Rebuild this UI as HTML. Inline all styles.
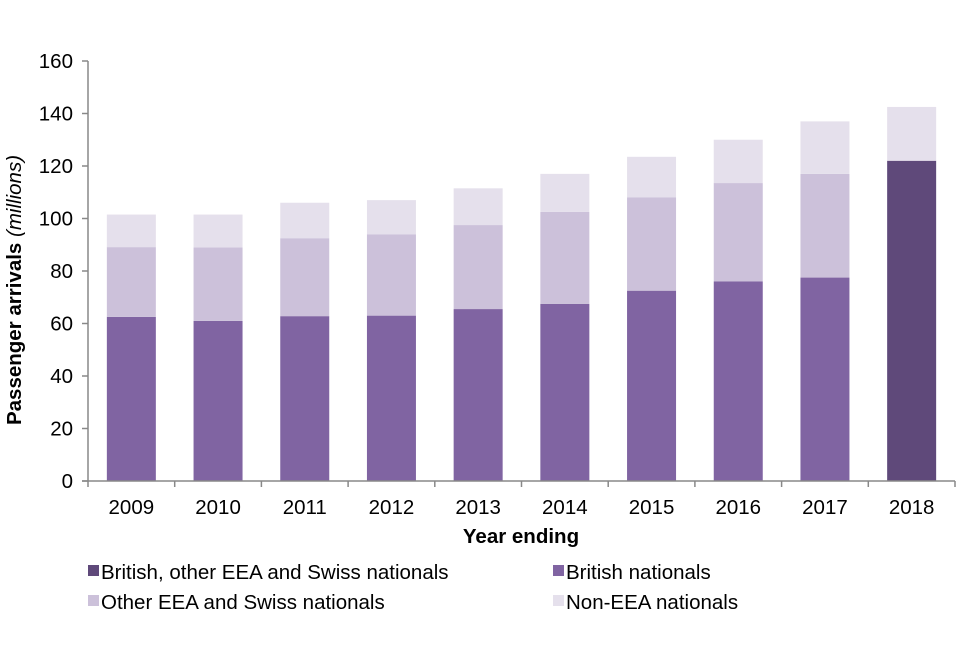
<!DOCTYPE html>
<html><head><meta charset="utf-8"><style>
body{margin:0;background:#fff;font-family:"Liberation Sans",Arial,sans-serif}
svg text{font-family:"Liberation Sans",Arial,sans-serif}
</style></head><body>
<svg id="chart" width="960" height="640" xmlns="http://www.w3.org/2000/svg"></svg>
<script>
const categories=["2009","2010","2011","2012","2013","2014","2015","2016","2017","2018"];
const combined=[0,0,0,0,0,0,0,0,0,122];
const british=[62.5,61,62.8,63,65.5,67.5,72.5,76,77.5,0];
const otherEEA=[26.6,28,29.7,31,32,35,35.5,37.5,39.5,0];
const nonEEA=[12.4,12.5,13.5,13,14,14.5,15.5,16.5,20,20.5];
const yTicks=[0,20,40,60,80,100,120,140,160];
const ns="http://www.w3.org/2000/svg";
const svg=document.getElementById("chart");
const X0=88,X1=955,Y0=481,Y1=61,YMAX=160;
const bw=(X1-X0)/categories.length;
const y=v=>Y0-(v/YMAX)*(Y0-Y1);
const xc=i=>X0+bw*(i+0.5);
function el(t,a){const e=document.createElementNS(ns,t);for(const k in a)e.setAttribute(k,a[k]);svg.appendChild(e);return e;}
const series=[[combined,"#5f497a","bar-british-eea-swiss"],[british,"#8064a2","bar-british"],[otherEEA,"#ccc1da","bar-other-eea-swiss"],[nonEEA,"#e5e0ec","bar-non-eea"]];
categories.forEach((c,i)=>{
  let base=0;
  series.forEach(([arr,col,nm])=>{
    const v=arr[i];if(!v)return;
    const r=el("rect",{x:xc(i)-24.5,y:y(base+v),width:49,height:y(base)-y(base+v),fill:col});
    
    
    base+=v;
  });
  const t=el("text",{x:xc(i),y:514,"text-anchor":"middle","font-size":"20.5",fill:"#000"});t.textContent=c;
  
  
  el("line",{x1:X0+bw*(i+1),x2:X0+bw*(i+1),y1:Y0,y2:Y0+6,stroke:"#888","stroke-width":1.5});
});
yTicks.forEach(v=>{
  el("line",{x1:X0-6,x2:X0,y1:y(v),y2:y(v),stroke:"#888","stroke-width":1.5});
  const t=el("text",{x:X0-15,y:y(v)+7,"text-anchor":"end","font-size":"20.5",fill:"#000"});t.textContent=v;
  
  
});
el("line",{x1:X0,x2:X0,y1:Y1,y2:Y0+6,stroke:"#888","stroke-width":1.5});
el("line",{x1:X0-6,x2:X1,y1:Y0,y2:Y0,stroke:"#888","stroke-width":1.5});
const xt=el("text",{x:521,y:543,"text-anchor":"middle","font-size":"20.5","font-weight":"bold"});xt.textContent="Year ending";


const yt=el("text",{x:0,y:0,transform:"translate(21,290) rotate(-90)","text-anchor":"middle","font-size":"20.5","font-weight":"bold"});
yt.innerHTML='Passenger arrivals <tspan font-style="italic" font-weight="normal">(millions)</tspan>';


const legend=[["British, other EEA and Swiss nationals","#5f497a",88,579],["British nationals","#8064a2",553,579],["Other EEA and Swiss nationals","#ccc1da",88,609],["Non-EEA nationals","#e5e0ec",553,609]];
legend.forEach(([l,c,lx,ly])=>{
  const g=el("g",{});
  
  
  const r=document.createElementNS(ns,"rect");r.setAttribute("x",lx);r.setAttribute("y",ly-14);r.setAttribute("width",11);r.setAttribute("height",11);r.setAttribute("fill",c);g.appendChild(r);
  const t=document.createElementNS(ns,"text");t.setAttribute("x",lx+13);t.setAttribute("y",ly);t.setAttribute("font-size","20.5");t.textContent=l;g.appendChild(t);
});
</script>
</body></html>
